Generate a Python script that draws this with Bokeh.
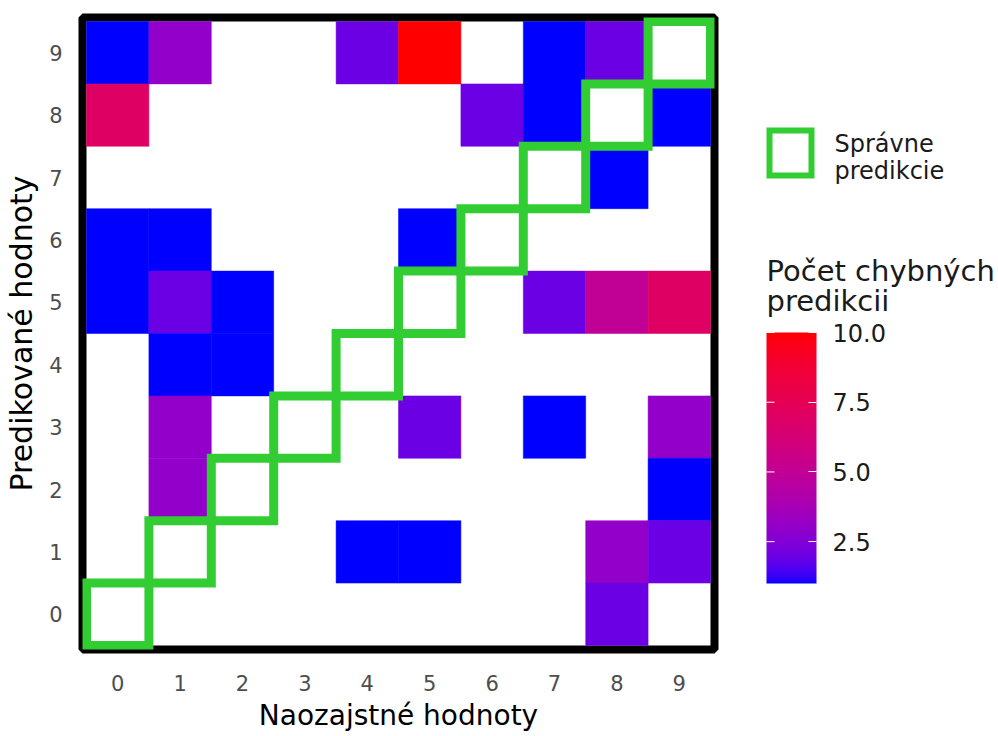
import numpy as np
from bokeh.plotting import figure
from bokeh.models import (Range1d, LinearColorMapper, ColorBar, FixedTicker,
                          PrintfTickFormatter, ColumnDataSource)
from bokeh.layouts import row
from bokeh.core.properties import value
from bokeh.embed import file_html
from bokeh.resources import INLINE

# ---------------- data ----------------
true_vals = [0, 1, 4, 5, 7, 8,
             0, 6, 7, 9,
             8,
             0, 1, 5,
             0, 1, 2, 7, 8, 9,
             1, 2,
             1, 5, 7, 9,
             1, 9,
             4, 5, 8, 9,
             8]
pred_vals = [9, 9, 9, 9, 9, 9,
             8, 8, 8, 8,
             7,
             6, 6, 6,
             5, 5, 5, 5, 5, 5,
             4, 4,
             3, 3, 3, 3,
             2, 2,
             1, 1, 1, 1,
             0]
error_counts = [1, 3, 2, 10, 1, 2,
                7, 2, 1, 1,
                1,
                1, 1, 1,
                1, 2, 1, 2, 5, 7,
                1, 1,
                3, 2, 1, 3,
                3, 1,
                1, 1, 3, 2,
                2]
diag_vals = [0, 1, 2, 3, 4, 5, 6, 7, 8, 9]
tick_labels = ["0", "1", "2", "3", "4", "5", "6", "7", "8", "9"]
colorbar_ticks = [2.5, 5.0, 7.5, 10.0]
count_low, count_high = 1, 10

x_title = "Naozajstné hodnoty"
y_title = "Predikované hodnoty"
legend_lines = ["Správne", "predikcie"]
cbar_title_lines = ["Počet chybných", "predikcii"]

FONT = "DejaVu Sans"

# ---------------- Lab gradient palette (blue -> red) ----------------
M = np.array([[0.4124564, 0.3575761, 0.1804375],
              [0.2126729, 0.7151522, 0.0721750],
              [0.0193339, 0.1191920, 0.9503041]])
Minv = np.linalg.inv(M)
WHITE = np.array([0.95047, 1.0, 1.08883])


def hex_to_lab(h):
    rgb = np.array([int(h[i:i + 2], 16) for i in (1, 3, 5)]) / 255.0
    lin = np.where(rgb <= 0.04045, rgb / 12.92, ((rgb + 0.055) / 1.055) ** 2.4)
    xyz = M @ lin / WHITE
    d = 6 / 29
    f = np.where(xyz > d ** 3, np.cbrt(xyz), xyz / (3 * d * d) + 4 / 29)
    return np.array([116 * f[1] - 16, 500 * (f[0] - f[1]), 200 * (f[1] - f[2])])


def lab_to_hex(lab):
    L, a, b = lab
    fy = (L + 16) / 116
    fx = fy + a / 500
    fz = fy - b / 200
    d = 6 / 29
    f = np.array([fx, fy, fz])
    xyz = np.where(f > d, f ** 3, 3 * d * d * (f - 4 / 29)) * WHITE
    lin = np.clip(Minv @ xyz, 0, 1)
    rgb = np.where(lin <= 0.0031308, 12.92 * lin, 1.055 * lin ** (1 / 2.4) - 0.055)
    rgb = np.clip(np.round(rgb * 255), 0, 255).astype(int)
    return "#%02x%02x%02x" % tuple(rgb)


lab_lo, lab_hi = hex_to_lab("#0000ff"), hex_to_lab("#ff0000")
palette = [lab_to_hex(lab_lo + (lab_hi - lab_lo) * t) for t in np.linspace(0, 1, 256)]
mapper = LinearColorMapper(palette=palette, low=count_low, high=count_high)

# ---------------- geometry ----------------
H = 736
PW, QW = 720, 278
FL, FT, FB, FR = 82, 17, 87, 6       # heat-map frame borders
CELL = 62.4
BORDER = 8
PAD = (BORDER / 2) / CELL
n = len(tick_labels)

# ---------------- main heatmap ----------------
p = figure(width=PW, height=H,
           x_range=Range1d(-0.5 - PAD, n - 0.5 + PAD),
           y_range=Range1d(-0.5 - PAD, n - 0.5 + PAD),
           toolbar_location=None, output_backend="svg",
           min_border_left=FL, min_border_right=FR,
           min_border_top=FT, min_border_bottom=FB)
p.background_fill_color = "white"
p.border_fill_color = "white"
p.xgrid.visible = False
p.ygrid.visible = False
p.outline_line_color = "black"
p.outline_line_width = BORDER

src = ColumnDataSource(dict(x=true_vals, y=pred_vals, c=error_counts))
p.rect(x="x", y="y", width=1, height=1, source=src,
       fill_color={"field": "c", "transform": mapper},
       line_color={"field": "c", "transform": mapper}, line_width=0.5)

p.rect(x=diag_vals, y=diag_vals, width=1, height=1,
       fill_color=None, line_color="#32CD32", line_width=9, line_join="miter")

for ax in (p.xaxis[0], p.yaxis[0]):
    ax.ticker = FixedTicker(ticks=diag_vals)
    ax.major_label_overrides = {v: s for v, s in zip(diag_vals, tick_labels)}
    ax.axis_line_color = None
    ax.major_tick_line_color = None
    ax.minor_tick_line_color = None
    ax.major_tick_out = 0
    ax.major_tick_in = 0
    ax.major_label_text_font = FONT
    ax.major_label_text_font_size = "21px"
    ax.major_label_text_color = "#4D4D4D"
    ax.axis_label_text_font = FONT
    ax.axis_label_text_font_style = "normal"
    ax.axis_label_text_color = "black"

p.xaxis.axis_label = x_title
p.xaxis.axis_label_text_font_size = "28px"
p.xaxis.major_label_standoff = 25
p.xaxis.axis_label_standoff = 5
p.yaxis.axis_label = y_title
p.yaxis.axis_label_text_font_size = "30px"
p.yaxis.major_label_standoff = 20
p.yaxis.axis_label_standoff = 7

# ---------------- legend panel (coordinates in page pixels) ----------------
q_left = PW
q = figure(width=QW, height=H,
           x_range=Range1d(q_left, q_left + QW), y_range=Range1d(H - FB, FT),
           x_axis_type=None, y_axis_type=None,
           toolbar_location=None, output_backend="svg",
           min_border_left=0, min_border_right=0,
           min_border_top=FT, min_border_bottom=FB)
q.outline_line_color = None
q.background_fill_color = "white"
q.border_fill_color = "white"

# key for the diagonal (correct predictions)
q.rect(x=[790], y=[152.5], width=42, height=45, fill_color="white",
       line_color="#32CD32", line_width=6, line_join="miter")
q.text(x=[834, 834], y=[143, 170], text=legend_lines,
       text_font=value(FONT), text_font_size="24px",
       text_baseline="alphabetic", text_color="#1a1a1a")

# colour bar
CB_LEFT, CB_TOP, CB_BOTTOM, CB_W = 766, 332, 583, 50
q.text(x=[CB_LEFT, CB_LEFT], y=[270, 300], text=cbar_title_lines,
       text_font=value(FONT), text_font_size="29px",
       text_baseline="alphabetic", text_color="#1a1a1a")

cb = ColorBar(color_mapper=mapper, ticker=FixedTicker(ticks=colorbar_ticks),
              formatter=PrintfTickFormatter(format="%.1f"),
              width=CB_W, height=CB_BOTTOM - CB_TOP,
              location=(CB_LEFT - q_left, (H - FB) - CB_BOTTOM),
              padding=0, margin=0, orientation="vertical",
              major_label_text_font=FONT, major_label_text_font_size="24px",
              major_label_text_color="#1a1a1a", label_standoff=16,
              major_tick_line_color="white", major_tick_in=8, major_tick_out=0,
              minor_tick_line_color=None,
              bar_line_color=None, border_line_color=None,
              background_fill_color=None)
q.add_layout(cb)

unit = (CB_BOTTOM - CB_TOP) / (count_high - count_low)
q.extra_y_ranges = {"cb": Range1d(count_low - ((H - FB) - CB_BOTTOM) / unit,
                                  count_high + (CB_TOP - FT) / unit)}
q.segment(x0=CB_LEFT, x1=CB_LEFT + 8, y0=colorbar_ticks, y1=colorbar_ticks,
          y_range_name="cb", line_color="white", line_width=1, level="overlay")

layout = row(p, q)
open("out.html", "w").write(file_html(layout, INLINE))
